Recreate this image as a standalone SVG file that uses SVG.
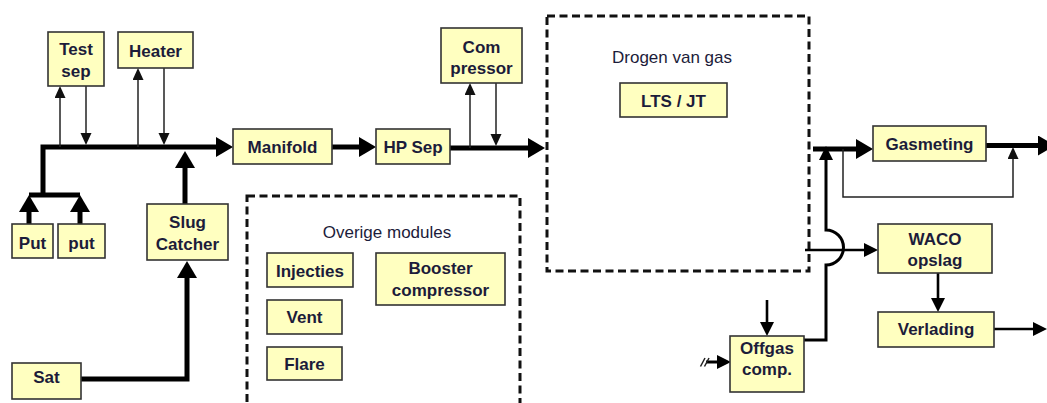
<svg xmlns="http://www.w3.org/2000/svg" width="1047" height="403" viewBox="0 0 1047 403">
  <style>
    .box { fill: #ffffc0; stroke: #333333; stroke-width: 1.6; }
    .lbl { font-family: "Liberation Sans", Arial, sans-serif; font-size: 17px; font-weight: bold; fill: #1c1c3a; text-anchor: middle; }
    .title { font-family: "Liberation Sans", Arial, sans-serif; font-size: 17px; fill: #1c1c3a; text-anchor: middle; }
    .group { fill: none; stroke: #111111; stroke-width: 3; stroke-dasharray: 8 4.5; }
    .thick { fill: none; stroke: #000000; stroke-width: 5; stroke-linejoin: miter; }
    .med { fill: none; stroke: #000000; stroke-width: 2.6; }
    .thin { fill: none; stroke: #222222; stroke-width: 1.5; }
    .a-thick { marker-end: url(#headThick); }
    .a-med { marker-end: url(#headMed); }
    .a-thin { marker-end: url(#headThin); }
  </style>
  <defs>
    <marker id="headThick" markerUnits="userSpaceOnUse" markerWidth="18" markerHeight="21" refX="1" refY="10" orient="auto">
      <path d="M0,0 L17,10 L0,20 Z" fill="#000000"/>
    </marker>
    <marker id="headMed" markerUnits="userSpaceOnUse" markerWidth="15" markerHeight="15" refX="1" refY="7" orient="auto">
      <path d="M0,0 L14,7 L0,14 Z" fill="#000000"/>
    </marker>
    <marker id="headThin" markerUnits="userSpaceOnUse" markerWidth="13" markerHeight="12" refX="1" refY="5.5" orient="auto">
      <path d="M0,0 L12,5.5 L0,11 Z" fill="#111111"/>
    </marker>
  </defs>

  <!-- module groups (dashed frames) -->
  <g id="group-overige">
    <rect class="group" x="247" y="196" width="273" height="230"/>
    <text class="title" x="387" y="238">Overige modules</text>
  </g>
  <g id="group-drogen">
    <rect class="group" x="547" y="16" width="262" height="255"/>
    <text class="title" x="672" y="63">Drogen van gas</text>
  </g>

  <!-- flow lines -->
  <g id="connectors">
    <!-- wells to manifold header -->
    <path class="thick" d="M29,195 L80,195"/>
    <path class="thick a-thick" d="M43,195 L43,147 L217,147"/>
    <path class="thick a-thick" d="M29,224 L29,211"/>
    <path class="thick a-thick" d="M80,224 L80,211"/>
    <path class="thick a-thick" d="M185,204 L185,167"/>
    <path class="thick a-thick" d="M81,379 L187,379 L187,277"/>
    <path class="thin a-thin" d="M60,147 L60,97"/>
    <path class="thin a-thin" d="M86,86 L86,134"/>
    <path class="thin a-thin" d="M138,147 L138,79"/>
    <path class="thin a-thin" d="M164,68 L164,134"/>
    <!-- manifold, separator, compressor -->
    <path class="thick a-thick" d="M332,147 L360,147"/>
    <path class="thick a-thick" d="M450,148 L529,148"/>
    <path class="thin a-thin" d="M470,148 L470,94"/>
    <path class="thin a-thin" d="M496,83 L496,135"/>
    <!-- export side -->
    <path class="thick a-thick" d="M813,149 L857,149"/>
    <path class="thick a-thick" d="M986,145.5 L1039,145.5"/>
    <path class="thin a-thin" d="M843,149 L843,197 L1013,197 L1013,158"/>
    <path class="med a-med" style="stroke-width:3" d="M804,340 L826,340 L826,265 A17.5,17.5 0 0 0 826,230 L826,159"/>
    <path class="med a-med" d="M805,250 L865,250"/>
    <path class="med a-med" d="M938,273 L938,299"/>
    <path class="med a-med" d="M994,329 L1034,329"/>
    <path class="med a-med" d="M767,300 L767,323"/>
    <path class="med a-med" style="stroke-width:3" d="M706,362 L718,362"/>
    <path class="thin" d="M700.5,366.5 L705,358 M704.5,366.5 L709,358"/>
  </g>

  <!-- process units -->
  <g id="node-testsep">
    <rect class="box" x="48" y="32" width="56" height="54"/>
    <text class="lbl" x="76" y="55">Test</text>
    <text class="lbl" x="76" y="77">sep</text>
  </g>
  <g id="node-heater">
    <rect class="box" x="118" y="32" width="75" height="36"/>
    <text class="lbl" x="155.5" y="57">Heater</text>
  </g>
  <g id="node-put1">
    <rect class="box" x="12" y="224" width="41" height="34"/>
    <text class="lbl" x="32.5" y="249">Put</text>
  </g>
  <g id="node-put2">
    <rect class="box" x="58" y="224" width="47" height="34"/>
    <text class="lbl" x="81.5" y="249">put</text>
  </g>
  <g id="node-slugcatcher">
    <rect class="box" x="147" y="204" width="81" height="56"/>
    <text class="lbl" x="187.5" y="228">Slug</text>
    <text class="lbl" x="187.5" y="250">Catcher</text>
  </g>
  <g id="node-sat">
    <rect class="box" x="12" y="363" width="69" height="36"/>
    <text class="lbl" x="46.5" y="383">Sat</text>
  </g>
  <g id="node-manifold">
    <rect class="box" x="233" y="129" width="99" height="35"/>
    <text class="lbl" x="282.5" y="153">Manifold</text>
  </g>
  <g id="node-hpsep">
    <rect class="box" x="376" y="129" width="74" height="35"/>
    <text class="lbl" x="413" y="153">HP Sep</text>
  </g>
  <g id="node-compressor">
    <rect class="box" x="441" y="28" width="81" height="55"/>
    <text class="lbl" x="481.5" y="53">Com</text>
    <text class="lbl" x="481.5" y="74">pressor</text>
  </g>
  <g id="node-ltsjt">
    <rect class="box" x="620" y="83" width="107" height="34"/>
    <text class="lbl" x="673.5" y="107">LTS / JT</text>
  </g>
  <g id="node-injecties">
    <rect class="box" x="267" y="253" width="86" height="34"/>
    <text class="lbl" x="310" y="277">Injecties</text>
  </g>
  <g id="node-booster">
    <rect class="box" x="376" y="253" width="129" height="52"/>
    <text class="lbl" x="440.5" y="274">Booster</text>
    <text class="lbl" x="440.5" y="296">compressor</text>
  </g>
  <g id="node-vent">
    <rect class="box" x="267" y="300" width="75" height="34"/>
    <text class="lbl" x="304.5" y="323">Vent</text>
  </g>
  <g id="node-flare">
    <rect class="box" x="267" y="347" width="75" height="33"/>
    <text class="lbl" x="304.5" y="370">Flare</text>
  </g>
  <g id="node-gasmeting">
    <rect class="box" x="873" y="126" width="113" height="35"/>
    <text class="lbl" x="929.5" y="150">Gasmeting</text>
  </g>
  <g id="node-waco">
    <rect class="box" x="878" y="224" width="114" height="49"/>
    <text class="lbl" x="935" y="245">WACO</text>
    <text class="lbl" x="935" y="266">opslag</text>
  </g>
  <g id="node-verlading">
    <rect class="box" x="878" y="312" width="116" height="35"/>
    <text class="lbl" x="936" y="335">Verlading</text>
  </g>
  <g id="node-offgas">
    <rect class="box" x="730" y="336" width="74" height="56"/>
    <text class="lbl" x="767" y="354">Offgas</text>
    <text class="lbl" x="767" y="375">comp.</text>
  </g>
</svg>
